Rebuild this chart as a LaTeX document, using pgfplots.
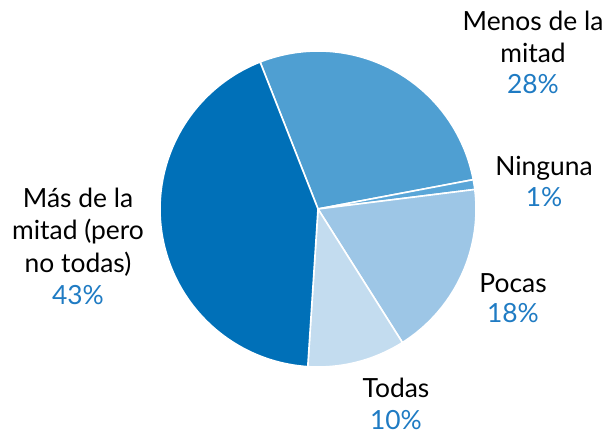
\documentclass[border=0pt]{standalone}
\usepackage{pgfplots}
\pgfplotsset{compat=1.18}
\usepackage{fontspec}
\setmainfont{Lato}
\definecolor{cMenos}{HTML}{4F9FD2}
\definecolor{cNinguna}{HTML}{5AA6D8}
\definecolor{cPocas}{HTML}{9DC6E6}
\definecolor{cTodas}{HTML}{C3DCEF}
\definecolor{cMas}{HTML}{0070B8}
\definecolor{pct}{HTML}{1F7BC3}
% values (percent), clockwise from the start angle
\def\vMenos{28}
\def\vNinguna{1}
\def\vPocas{18}
\def\vTodas{10}
\def\vMas{43}
\def\startangle{111.5}
\pgfmathsetmacro\aA{\startangle}
\pgfmathsetmacro\aB{\aA-3.6*\vMenos}
\pgfmathsetmacro\aC{\aB-3.6*\vNinguna}
\pgfmathsetmacro\aD{\aC-3.6*\vPocas}
\pgfmathsetmacro\aE{\aD-3.6*\vTodas}
\pgfmathsetmacro\aF{\aE-3.6*\vMas}
\newcommand{\slice}[3]{%
  \addplot[fill=#3, draw=white, line width=1.6bp, line join=round, domain=#1:#2, samples=90]
    ({318+158*cos(x)},{227+158*sin(x)}) -- (axis cs:318,227) -- cycle;}
\newcommand{\lab}[3]{\node[anchor=base, inner sep=0pt, font=\fontsize{26.5}{30}\selectfont] at (axis cs:#1,#2) {#3};}
\begin{document}
\begin{tikzpicture}
\begin{axis}[x=1bp, y=1bp, xmin=0, xmax=605, ymin=0, ymax=436,
  hide axis, clip=false, scale only axis]
\path (axis cs:0,0) rectangle (axis cs:605,436);
\slice{\aB}{\aA}{cMenos}
\slice{\aC}{\aB}{cNinguna}
\slice{\aD}{\aC}{cPocas}
\slice{\aE}{\aD}{cTodas}
\slice{\aF}{\aE}{cMas}
% labels (y = 436 - baseline pixel)
\lab{533}{405}{Menos de la}
\lab{533}{373}{mitad}
\lab{533}{342}{\color{pct}28\%}
\lab{544}{260}{Ninguna}
\lab{544}{229}{\color{pct}1\%}
\lab{513}{143}{Pocas}
\lab{513}{113}{\color{pct}18\%}
\lab{396}{38}{Todas}
\lab{396}{6}{\color{pct}10\%}
\lab{78}{228}{Más de la}
\lab{78}{196}{mitad (pero}
\lab{78}{163}{no todas)}
\lab{78}{131}{\color{pct}43\%}
\end{axis}
\end{tikzpicture}
\end{document}
